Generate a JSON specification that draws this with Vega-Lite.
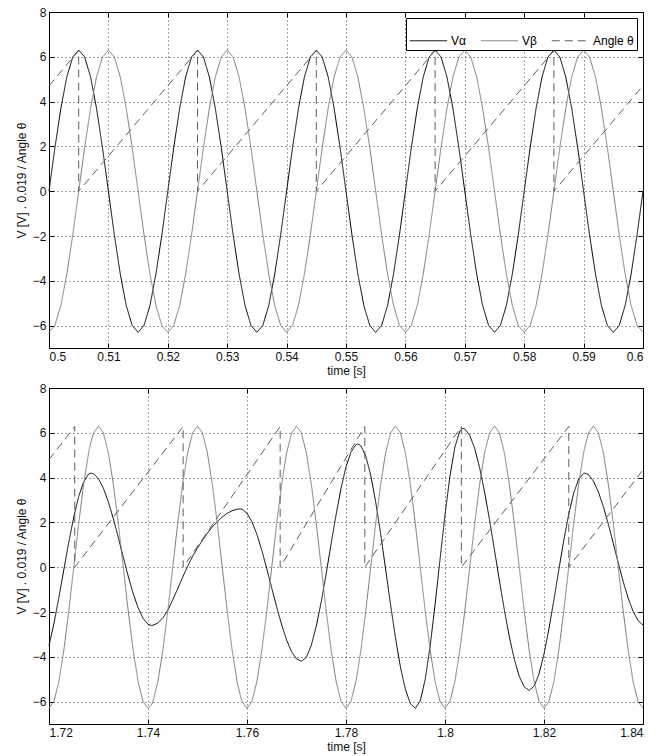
{
"$schema": "https://vega.github.io/schema/vega-lite/v6.json",
"background": "white",
"padding": {"left": 14, "top": 5, "right": 5, "bottom": 5},
"bounds": "flush",
"spacing": 40,
"config": {
  "font": "Liberation Sans",
  "view": {"stroke": "#000", "strokeWidth": 1},
  "axis": {"labelFont": "Liberation Sans", "labelFontSize": 12, "labelColor": "#111", "titleFont": "Liberation Sans", "titleFontSize": 12, "titleFontWeight": "normal", "titleColor": "#111", "gridColor": "#000", "gridDash": [1, 3], "gridOpacity": 0.75, "tickColor": "#000", "tickSize": -5, "domain": false, "labelPadding": 8},
  "legend": {"orient": "top-right", "direction": "horizontal", "symbolType": "stroke", "symbolSize": 1400, "symbolStrokeWidth": 1, "labelFont": "Liberation Sans", "labelFontSize": 12, "labelColor": "#000", "strokeColor": "#000", "fillColor": "#fff", "padding": 3, "offset": 6, "columnPadding": 12, "labelOffset": 3, "cornerRadius": 0}
},
"datasets": {
  "topV": [
    {"t":0.5,"Vα":0,"Vβ":-6.3},{"t":0.501,"Vα":1.95,"Vβ":-5.99},{"t":0.502,"Vα":3.7,"Vβ":-5.1},{"t":0.503,"Vα":5.1,"Vβ":-3.7},{"t":0.504,"Vα":5.99,"Vβ":-1.95},{"t":0.505,"Vα":6.3,"Vβ":0},{"t":0.506,"Vα":5.99,"Vβ":1.95},{"t":0.507,"Vα":5.1,"Vβ":3.7},{"t":0.508,"Vα":3.7,"Vβ":5.1},{"t":0.509,"Vα":1.95,"Vβ":5.99},
    {"t":0.51,"Vα":0,"Vβ":6.3},{"t":0.511,"Vα":-1.95,"Vβ":5.99},{"t":0.512,"Vα":-3.7,"Vβ":5.1},{"t":0.513,"Vα":-5.1,"Vβ":3.7},{"t":0.514,"Vα":-5.99,"Vβ":1.95},{"t":0.515,"Vα":-6.3,"Vβ":0},{"t":0.516,"Vα":-5.99,"Vβ":-1.95},{"t":0.517,"Vα":-5.1,"Vβ":-3.7},{"t":0.518,"Vα":-3.7,"Vβ":-5.1},{"t":0.519,"Vα":-1.95,"Vβ":-5.99},
    {"t":0.52,"Vα":0,"Vβ":-6.3},{"t":0.521,"Vα":1.95,"Vβ":-5.99},{"t":0.522,"Vα":3.7,"Vβ":-5.1},{"t":0.523,"Vα":5.1,"Vβ":-3.7},{"t":0.524,"Vα":5.99,"Vβ":-1.95},{"t":0.525,"Vα":6.3,"Vβ":0},{"t":0.526,"Vα":5.99,"Vβ":1.95},{"t":0.527,"Vα":5.1,"Vβ":3.7},{"t":0.528,"Vα":3.7,"Vβ":5.1},{"t":0.529,"Vα":1.95,"Vβ":5.99},
    {"t":0.53,"Vα":0,"Vβ":6.3},{"t":0.531,"Vα":-1.95,"Vβ":5.99},{"t":0.532,"Vα":-3.7,"Vβ":5.1},{"t":0.533,"Vα":-5.1,"Vβ":3.7},{"t":0.534,"Vα":-5.99,"Vβ":1.95},{"t":0.535,"Vα":-6.3,"Vβ":0},{"t":0.536,"Vα":-5.99,"Vβ":-1.95},{"t":0.537,"Vα":-5.1,"Vβ":-3.7},{"t":0.538,"Vα":-3.7,"Vβ":-5.1},{"t":0.539,"Vα":-1.95,"Vβ":-5.99},
    {"t":0.54,"Vα":0,"Vβ":-6.3},{"t":0.541,"Vα":1.95,"Vβ":-5.99},{"t":0.542,"Vα":3.7,"Vβ":-5.1},{"t":0.543,"Vα":5.1,"Vβ":-3.7},{"t":0.544,"Vα":5.99,"Vβ":-1.95},{"t":0.545,"Vα":6.3,"Vβ":0},{"t":0.546,"Vα":5.99,"Vβ":1.95},{"t":0.547,"Vα":5.1,"Vβ":3.7},{"t":0.548,"Vα":3.7,"Vβ":5.1},{"t":0.549,"Vα":1.95,"Vβ":5.99},
    {"t":0.55,"Vα":0,"Vβ":6.3},{"t":0.551,"Vα":-1.95,"Vβ":5.99},{"t":0.552,"Vα":-3.7,"Vβ":5.1},{"t":0.553,"Vα":-5.1,"Vβ":3.7},{"t":0.554,"Vα":-5.99,"Vβ":1.95},{"t":0.555,"Vα":-6.3,"Vβ":0},{"t":0.556,"Vα":-5.99,"Vβ":-1.95},{"t":0.557,"Vα":-5.1,"Vβ":-3.7},{"t":0.558,"Vα":-3.7,"Vβ":-5.1},{"t":0.559,"Vα":-1.95,"Vβ":-5.99},
    {"t":0.56,"Vα":0,"Vβ":-6.3},{"t":0.561,"Vα":1.95,"Vβ":-5.99},{"t":0.562,"Vα":3.7,"Vβ":-5.1},{"t":0.563,"Vα":5.1,"Vβ":-3.7},{"t":0.564,"Vα":5.99,"Vβ":-1.95},{"t":0.565,"Vα":6.3,"Vβ":0},{"t":0.566,"Vα":5.99,"Vβ":1.95},{"t":0.567,"Vα":5.1,"Vβ":3.7},{"t":0.568,"Vα":3.7,"Vβ":5.1},{"t":0.569,"Vα":1.95,"Vβ":5.99},
    {"t":0.57,"Vα":0,"Vβ":6.3},{"t":0.571,"Vα":-1.95,"Vβ":5.99},{"t":0.572,"Vα":-3.7,"Vβ":5.1},{"t":0.573,"Vα":-5.1,"Vβ":3.7},{"t":0.574,"Vα":-5.99,"Vβ":1.95},{"t":0.575,"Vα":-6.3,"Vβ":0},{"t":0.576,"Vα":-5.99,"Vβ":-1.95},{"t":0.577,"Vα":-5.1,"Vβ":-3.7},{"t":0.578,"Vα":-3.7,"Vβ":-5.1},{"t":0.579,"Vα":-1.95,"Vβ":-5.99},
    {"t":0.58,"Vα":0,"Vβ":-6.3},{"t":0.581,"Vα":1.95,"Vβ":-5.99},{"t":0.582,"Vα":3.7,"Vβ":-5.1},{"t":0.583,"Vα":5.1,"Vβ":-3.7},{"t":0.584,"Vα":5.99,"Vβ":-1.95},{"t":0.585,"Vα":6.3,"Vβ":0},{"t":0.586,"Vα":5.99,"Vβ":1.95},{"t":0.587,"Vα":5.1,"Vβ":3.7},{"t":0.588,"Vα":3.7,"Vβ":5.1},{"t":0.589,"Vα":1.95,"Vβ":5.99},
    {"t":0.59,"Vα":0,"Vβ":6.3},{"t":0.591,"Vα":-1.95,"Vβ":5.99},{"t":0.592,"Vα":-3.7,"Vβ":5.1},{"t":0.593,"Vα":-5.1,"Vβ":3.7},{"t":0.594,"Vα":-5.99,"Vβ":1.95},{"t":0.595,"Vα":-6.3,"Vβ":0},{"t":0.596,"Vα":-5.99,"Vβ":-1.95},{"t":0.597,"Vα":-5.1,"Vβ":-3.7},{"t":0.598,"Vα":-3.7,"Vβ":-5.1},{"t":0.599,"Vα":-1.95,"Vβ":-5.99},
    {"t":0.6,"Vα":0,"Vβ":-6.3}
  ],
  "topA": [
    {"t":0.5,"Angle θ":4.71},{"t":0.505,"Angle θ":6.28},{"t":0.505,"Angle θ":0},{"t":0.525,"Angle θ":6.28},{"t":0.525,"Angle θ":0},{"t":0.545,"Angle θ":6.28},{"t":0.545,"Angle θ":0},{"t":0.565,"Angle θ":6.28},{"t":0.565,"Angle θ":0},{"t":0.585,"Angle θ":6.28},{"t":0.585,"Angle θ":0},{"t":0.6,"Angle θ":4.71}
  ],
  "botV": [
    {"t":1.72,"Vα":-3.5,"Vβ":-6.3},{"t":1.721,"Vα":-2.51,"Vβ":-5.99},{"t":1.722,"Vα":-1.35,"Vβ":-5.1},{"t":1.723,"Vα":-0.11,"Vβ":-3.7},{"t":1.724,"Vα":1.12,"Vβ":-1.95},{"t":1.725,"Vα":2.24,"Vβ":0},{"t":1.726,"Vα":3.16,"Vβ":1.95},{"t":1.727,"Vα":3.81,"Vβ":3.7},{"t":1.728,"Vα":4.16,"Vβ":5.1},{"t":1.7285,"Vα":4.2,"Vβ":5.61},{"t":1.729,"Vα":4.17,"Vβ":5.99},
    {"t":1.73,"Vα":3.95,"Vβ":6.3},{"t":1.731,"Vα":3.52,"Vβ":5.99},{"t":1.732,"Vα":2.91,"Vβ":5.1},{"t":1.733,"Vα":2.16,"Vβ":3.7},{"t":1.734,"Vα":1.33,"Vβ":1.95},{"t":1.735,"Vα":0.45,"Vβ":0},{"t":1.736,"Vα":-0.4,"Vβ":-1.95},{"t":1.737,"Vα":-1.17,"Vβ":-3.7},{"t":1.738,"Vα":-1.81,"Vβ":-5.1},{"t":1.739,"Vα":-2.28,"Vβ":-5.99},
    {"t":1.74,"Vα":-2.55,"Vβ":-6.3},{"t":1.7407,"Vα":-2.6,"Vβ":-6.15},{"t":1.741,"Vα":-2.59,"Vβ":-5.99},{"t":1.742,"Vα":-2.49,"Vβ":-5.1},{"t":1.743,"Vα":-2.26,"Vβ":-3.7},{"t":1.744,"Vα":-1.92,"Vβ":-1.95},{"t":1.745,"Vα":-1.46,"Vβ":0},{"t":1.746,"Vα":-0.96,"Vβ":1.95},{"t":1.747,"Vα":-0.45,"Vβ":3.7},{"t":1.748,"Vα":0.04,"Vβ":5.1},{"t":1.749,"Vα":0.48,"Vβ":5.99},
    {"t":1.75,"Vα":0.86,"Vβ":6.3},{"t":1.751,"Vα":1.2,"Vβ":5.99},{"t":1.752,"Vα":1.52,"Vβ":5.1},{"t":1.753,"Vα":1.8,"Vβ":3.7},{"t":1.754,"Vα":2.04,"Vβ":1.95},{"t":1.755,"Vα":2.24,"Vβ":0},{"t":1.756,"Vα":2.41,"Vβ":-1.95},{"t":1.757,"Vα":2.52,"Vβ":-3.7},{"t":1.758,"Vα":2.59,"Vβ":-5.1},{"t":1.7587,"Vα":2.6,"Vβ":-5.78},{"t":1.759,"Vα":2.59,"Vβ":-5.99},
    {"t":1.76,"Vα":2.41,"Vβ":-6.3},{"t":1.761,"Vα":2.03,"Vβ":-5.99},{"t":1.762,"Vα":1.46,"Vβ":-5.1},{"t":1.763,"Vα":0.75,"Vβ":-3.7},{"t":1.764,"Vα":-0.07,"Vβ":-1.95},{"t":1.765,"Vα":-0.93,"Vβ":0},{"t":1.766,"Vα":-1.78,"Vβ":1.95},{"t":1.767,"Vα":-2.57,"Vβ":3.7},{"t":1.768,"Vα":-3.25,"Vβ":5.1},{"t":1.769,"Vα":-3.77,"Vβ":5.99},
    {"t":1.77,"Vα":-4.09,"Vβ":6.3},{"t":1.771,"Vα":-4.2,"Vβ":5.99},{"t":1.772,"Vα":-4.02,"Vβ":5.1},{"t":1.773,"Vα":-3.48,"Vβ":3.7},{"t":1.774,"Vα":-2.63,"Vβ":1.95},{"t":1.775,"Vα":-1.54,"Vβ":0},{"t":1.776,"Vα":-0.28,"Vβ":-1.95},{"t":1.777,"Vα":1.05,"Vβ":-3.7},{"t":1.778,"Vα":2.35,"Vβ":-5.1},{"t":1.779,"Vα":3.52,"Vβ":-5.99},
    {"t":1.78,"Vα":4.48,"Vβ":-6.3},{"t":1.781,"Vα":5.14,"Vβ":-5.99},{"t":1.782,"Vα":5.47,"Vβ":-5.1},{"t":1.7824,"Vα":5.5,"Vβ":-4.59},{"t":1.783,"Vα":5.42,"Vβ":-3.7},{"t":1.784,"Vα":4.96,"Vβ":-1.95},{"t":1.785,"Vα":4.1,"Vβ":0},{"t":1.786,"Vα":2.91,"Vβ":1.95},{"t":1.787,"Vα":1.49,"Vβ":3.7},{"t":1.788,"Vα":-0.08,"Vβ":5.1},{"t":1.789,"Vα":-1.67,"Vβ":5.99},
    {"t":1.79,"Vα":-3.16,"Vβ":6.3},{"t":1.791,"Vα":-4.46,"Vβ":5.99},{"t":1.792,"Vα":-5.46,"Vβ":5.1},{"t":1.793,"Vα":-6.09,"Vβ":3.7},{"t":1.794,"Vα":-6.3,"Vβ":1.95},{"t":1.795,"Vα":-5.97,"Vβ":0},{"t":1.796,"Vα":-5.01,"Vβ":-1.95},{"t":1.797,"Vα":-3.52,"Vβ":-3.7},{"t":1.798,"Vα":-1.67,"Vβ":-5.1},{"t":1.799,"Vα":0.36,"Vβ":-5.99},
    {"t":1.8,"Vα":2.34,"Vβ":-6.3},{"t":1.801,"Vα":4.07,"Vβ":-5.99},{"t":1.802,"Vα":5.36,"Vβ":-5.1},{"t":1.803,"Vα":6.08,"Vβ":-3.7},{"t":1.8036,"Vα":6.2,"Vβ":-2.68},{"t":1.804,"Vα":6.17,"Vβ":-1.95},{"t":1.805,"Vα":5.89,"Vβ":0},{"t":1.806,"Vα":5.3,"Vβ":1.95},{"t":1.807,"Vα":4.44,"Vβ":3.7},{"t":1.808,"Vα":3.35,"Vβ":5.1},{"t":1.809,"Vα":2.11,"Vβ":5.99},
    {"t":1.81,"Vα":0.76,"Vβ":6.3},{"t":1.811,"Vα":-0.61,"Vβ":5.99},{"t":1.812,"Vα":-1.92,"Vβ":5.1},{"t":1.813,"Vα":-3.11,"Vβ":3.7},{"t":1.814,"Vα":-4.11,"Vβ":1.95},{"t":1.815,"Vα":-4.87,"Vβ":0},{"t":1.816,"Vα":-5.34,"Vβ":-1.95},{"t":1.817,"Vα":-5.5,"Vβ":-3.7},{"t":1.818,"Vα":-5.31,"Vβ":-5.1},{"t":1.819,"Vα":-4.76,"Vβ":-5.99},
    {"t":1.82,"Vα":-3.88,"Vβ":-6.3},{"t":1.821,"Vα":-2.75,"Vβ":-5.99},{"t":1.822,"Vα":-1.46,"Vβ":-5.1},{"t":1.823,"Vα":-0.11,"Vβ":-3.7},{"t":1.824,"Vα":1.21,"Vβ":-1.95},{"t":1.825,"Vα":2.37,"Vβ":0},{"t":1.826,"Vα":3.31,"Vβ":1.95},{"t":1.827,"Vα":3.93,"Vβ":3.7},{"t":1.828,"Vα":4.19,"Vβ":5.1},{"t":1.8282,"Vα":4.2,"Vβ":5.32},{"t":1.829,"Vα":4.13,"Vβ":5.99},
    {"t":1.83,"Vα":3.84,"Vβ":6.3},{"t":1.831,"Vα":3.35,"Vβ":5.99},{"t":1.832,"Vα":2.7,"Vβ":5.1},{"t":1.833,"Vα":1.92,"Vβ":3.7},{"t":1.834,"Vα":1.06,"Vβ":1.95},{"t":1.835,"Vα":0.19,"Vβ":0},{"t":1.836,"Vα":-0.64,"Vβ":-1.95},{"t":1.837,"Vα":-1.38,"Vβ":-3.7},{"t":1.838,"Vα":-1.97,"Vβ":-5.1},{"t":1.839,"Vα":-2.38,"Vβ":-5.99},
    {"t":1.84,"Vα":-2.58,"Vβ":-6.3}
  ],
  "botA": [
    {"t":1.72,"Angle θ":4.8},{"t":1.7252,"Angle θ":6.28},{"t":1.7252,"Angle θ":0},{"t":1.7471,"Angle θ":6.28},{"t":1.7471,"Angle θ":0},{"t":1.7667,"Angle θ":6.28},{"t":1.7667,"Angle θ":0},{"t":1.7838,"Angle θ":6.28},{"t":1.7838,"Angle θ":0},{"t":1.8033,"Angle θ":6.28},{"t":1.8033,"Angle θ":0},{"t":1.825,"Angle θ":6.28},{"t":1.825,"Angle θ":0},{"t":1.84,"Angle θ":4.35}
  ]
},
"vconcat": [
  {
    "width": 594, "height": 336,
    "layer": [
      {
        "data": {"name": "topV"},
        "transform": [{"fold": ["Vα", "Vβ"], "as": ["s", "v"]}],
        "mark": {"type": "line", "strokeWidth": 1},
        "encoding": {
          "x": {"field": "t", "type": "quantitative", "scale": {"domain": [0.5, 0.6], "nice": false, "zero": false}, "axis": {"values": [0.5,0.51,0.52,0.53,0.54,0.55,0.56,0.57,0.58,0.59,0.6], "format": "~g", "title": "time [s]", "titlePadding": 3, "grid": true}},
          "y": {"field": "v", "type": "quantitative", "scale": {"domain": [-7, 8], "nice": false}, "axis": {"values": [-6,-4,-2,0,2,4,6,8], "title": "V [V] . 0.019 / Angle θ", "titlePadding": 4, "grid": true}},
          "color": {"field": "s", "type": "nominal", "scale": {"domain": ["Vα", "Vβ", "Angle θ"], "range": ["#000000", "#7c7c7c", "#5e5e5e"]}, "legend": {"title": null}},
          "strokeDash": {"field": "s", "type": "nominal", "scale": {"domain": ["Vα", "Vβ", "Angle θ"], "range": [[1, 0], [1, 0], [8, 5]]}, "legend": {"title": null}}
        }
      },
      {
        "data": {"name": "topA"},
        "transform": [{"fold": ["Angle θ"], "as": ["s", "v"]}],
        "mark": {"type": "line", "strokeWidth": 1},
        "encoding": {
          "x": {"field": "t", "type": "quantitative", "axis": {"orient": "top", "values": [0.5,0.51,0.52,0.53,0.54,0.55,0.56,0.57,0.58,0.59,0.6], "labels": false, "title": null, "grid": false}},
          "y": {"field": "v", "type": "quantitative", "axis": {"orient": "right", "values": [-6,-4,-2,0,2,4,6,8], "labels": false, "title": null, "grid": false}},
          "color": {"field": "s", "type": "nominal"},
          "strokeDash": {"field": "s", "type": "nominal"},
          "order": {"value": null}
        }
      }
    ],
    "resolve": {"axis": {"x": "independent", "y": "independent"}}
  },
  {
    "width": 594, "height": 336,
    "layer": [
      {
        "data": {"name": "botV"},
        "transform": [{"fold": ["Vα", "Vβ"], "as": ["s", "v"]}],
        "mark": {"type": "line", "strokeWidth": 1},
        "encoding": {
          "x": {"field": "t", "type": "quantitative", "scale": {"domain": [1.72, 1.84], "nice": false, "zero": false}, "axis": {"values": [1.72,1.74,1.76,1.78,1.8,1.82,1.84], "format": "~g", "title": "time [s]", "titlePadding": 3, "grid": true}},
          "y": {"field": "v", "type": "quantitative", "scale": {"domain": [-7, 8], "nice": false}, "axis": {"values": [-6,-4,-2,0,2,4,6,8], "title": "V [V] . 0.019 / Angle θ", "titlePadding": 4, "grid": true}},
          "color": {"field": "s", "type": "nominal", "scale": {"domain": ["Vα", "Vβ", "Angle θ"], "range": ["#000000", "#7c7c7c", "#5e5e5e"]}, "legend": {"title": null}},
          "strokeDash": {"field": "s", "type": "nominal", "scale": {"domain": ["Vα", "Vβ", "Angle θ"], "range": [[1, 0], [1, 0], [8, 5]]}, "legend": {"title": null}}
        }
      },
      {
        "data": {"name": "botA"},
        "transform": [{"fold": ["Angle θ"], "as": ["s", "v"]}],
        "mark": {"type": "line", "strokeWidth": 1},
        "encoding": {
          "x": {"field": "t", "type": "quantitative", "axis": {"orient": "top", "values": [1.72,1.74,1.76,1.78,1.8,1.82,1.84], "labels": false, "title": null, "grid": false}},
          "y": {"field": "v", "type": "quantitative", "axis": {"orient": "right", "values": [-6,-4,-2,0,2,4,6,8], "labels": false, "title": null, "grid": false}},
          "color": {"field": "s", "type": "nominal"},
          "strokeDash": {"field": "s", "type": "nominal"},
          "order": {"value": null}
        }
      }
    ],
    "resolve": {"axis": {"x": "independent", "y": "independent"}}
  }
]
}
